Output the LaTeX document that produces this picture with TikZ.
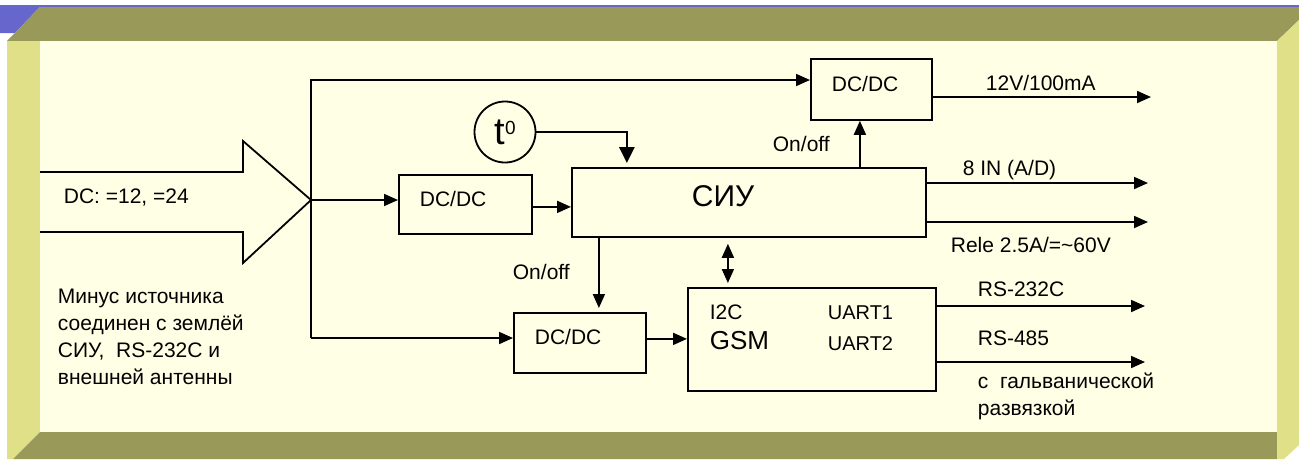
\documentclass[tikz,border=0pt]{standalone}
\usepackage{fontspec}
\setmainfont{Liberation Sans}
\usetikzlibrary{arrows.meta}

\definecolor{frameblue}{RGB}{102,102,204}
\definecolor{bandolive}{RGB}{153,153,90}
\definecolor{sideyellow}{RGB}{224,224,136}
\definecolor{panelcream}{RGB}{255,255,230}

\begin{document}
\begin{tikzpicture}[
    x=1pt, y=-1pt,
    line width=1.8pt,
    txt/.style={font=\fontsize{21}{27}\selectfont, inner sep=0pt, anchor=base west, align=left},
    blk/.style={draw, line width=1.8pt, font=\fontsize{21}{25}\selectfont, align=left,
                inner xsep=21pt, inner ysep=0pt, text depth=12pt, anchor=north west},
    arr/.style={-{Triangle[length=14pt,width=12pt]}, line width=1.8pt},
    dblarr/.style={{Triangle[length=14pt,width=12pt]}-{Triangle[length=14pt,width=12pt]}, line width=1.8pt},
  ]
    % Frame
    \useasboundingbox (0,0) rectangle (1299,459);
    \fill[frameblue] (0,5) -- (1299,5) -- (1299,7) -- (40,7) -- (14.8,33) -- (0,33) -- cycle;
    \fill[bandolive] (40,7) -- (1299,7) -- (1299,20) -- (1277,41) -- (7,41) -- cycle;
    \fill[sideyellow] (7,41) -- (40,41) -- (40,432) -- (13,459) -- (7,459) -- cycle;
    \fill[bandolive] (40,432) -- (1277,432) -- (1277,459) -- (13,459) -- cycle;
    \fill[sideyellow] (1277,41) -- (1299,20) -- (1299,445) -- (1284,459) -- (1277,459) -- cycle;
    \fill[panelcream] (40,41) rectangle (1277,432);

    % Power input
    \draw[line join=miter] (40,172) -- (243,172) -- (243,141) -- (311,200) coordinate (feed)
        -- (243,263) -- (243,232) -- (40,232);
    \node[txt] (dcin) at (63,203) {DC: =12, =24};
    \node[txt] (gndnote) at (57,384) {Минус источника\\соединен с землёй\\СИУ,\ \ RS-232C и\\внешней антенны};

    % Blocks
    \node[blk, minimum width=121pt, minimum height=61pt, text width=79pt]  (dctop) at (810,58)  {DC/DC};
    \node[blk, minimum width=133pt, minimum height=59pt, text width=91pt]  (dcmid) at (398,174) {DC/DC};
    \node[blk, minimum width=132pt, minimum height=60pt, text width=90pt]  (dcbot) at (513,312) {DC/DC};
    \node[blk, minimum width=354pt, minimum height=69pt, text width=114pt, inner xsep=120pt,
          font=\fontsize{30}{34}\selectfont] (siu) at (571,167) {СИУ};
    \node[draw, line width=1.8pt, anchor=north west, minimum width=248pt, minimum height=103pt,
          inner sep=0pt] (gsm) at (687,287) {};

    % GSM contents
    \node[txt] (i2c)   at (709,319) {I2C};
    \node[txt, font=\fontsize{26}{30}\selectfont] (gsmname) at (709,349) {GSM};
    \node[txt, font=\fontsize{20}{24}\selectfont] (uart1) at (827,319) {UART1};
    \node[txt, font=\fontsize{20}{24}\selectfont] (uart2) at (827,350) {UART2};

    % Temperature sensor
    \node[draw, circle, minimum size=61pt, inner sep=0pt, line width=1.8pt] (temp) at (505,132)
        {\fontsize{38}{40}\selectfont t\raisebox{10pt}{\fontsize{19}{19}\selectfont 0}};
    \draw[line width=2.8pt, -{Triangle[length=16pt,width=15pt]}, shorten >=4pt]
        (temp.east) -| ([xshift=-122pt]siu.north);

    % Bus
    \coordinate (bustop) at (311,80);
    \coordinate (busbot) at (311,338);
    \draw[arr] (busbot) -- (bustop) -- (bustop -| dctop.west);
    \draw[arr] (feed) -- (feed -| dcmid.west);
    \draw[arr] (busbot) -- (busbot -| dcbot.west);
    \draw[arr] ([yshift=-2.5pt]dcmid.east) -- ([yshift=-2.5pt]dcmid.east -| siu.west);
    \draw[arr] ([yshift=4pt]dcbot.east) -- ([yshift=4pt]dcbot.east -| gsm.west);

    % Control
    \draw[arr] ([xshift=111pt]siu.north) -- ([xshift=111pt]siu.north |- dctop.south);
    \node[txt] (onoff1) at (772,151) {On/off};
    \draw[arr, shorten >=4pt] ([xshift=-150pt]siu.south) -- ([xshift=-150pt]siu.south |- dcbot.north);
    \node[txt] (onoff2) at (512,279) {On/off};
    \draw[dblarr, shorten <=6pt, shorten >=4pt] ([xshift=-21pt]siu.south) -- ([xshift=-21pt]siu.south |- gsm.north);

    % Outputs
    \coordinate (pwrout)   at (1151,97);
    \coordinate (adout)    at (1148,183);
    \coordinate (releout)  at (1148,222);
    \coordinate (rs232out) at (1145,306);
    \coordinate (rs485out) at (1145,362);
    \draw[arr] (dctop.east |- pwrout) -- (pwrout);
    \draw[arr] (siu.east |- adout) -- (adout);
    \draw[arr] (siu.east |- releout) -- (releout);
    \draw[arr] (gsm.east |- rs232out) -- (rs232out);
    \draw[arr] (gsm.east |- rs485out) -- (rs485out);
    \node[txt] (pwrlbl)   at (985,90)  {12V/100mA};
    \node[txt] (adlbl)    at (962,175) {8 IN (A/D)};
    \node[txt] (relelbl)  at (950,252) {Rele 2.5A/=\textasciitilde60V};
    \node[txt] (rs232lbl) at (977,296) {RS-232C};
    \node[txt] (rs485lbl) at (977,345) {RS-485};
    \node[txt] (isolbl)   at (977,415) {с\ \ гальванической\\развязкой};
  \end{tikzpicture}
\end{document}
